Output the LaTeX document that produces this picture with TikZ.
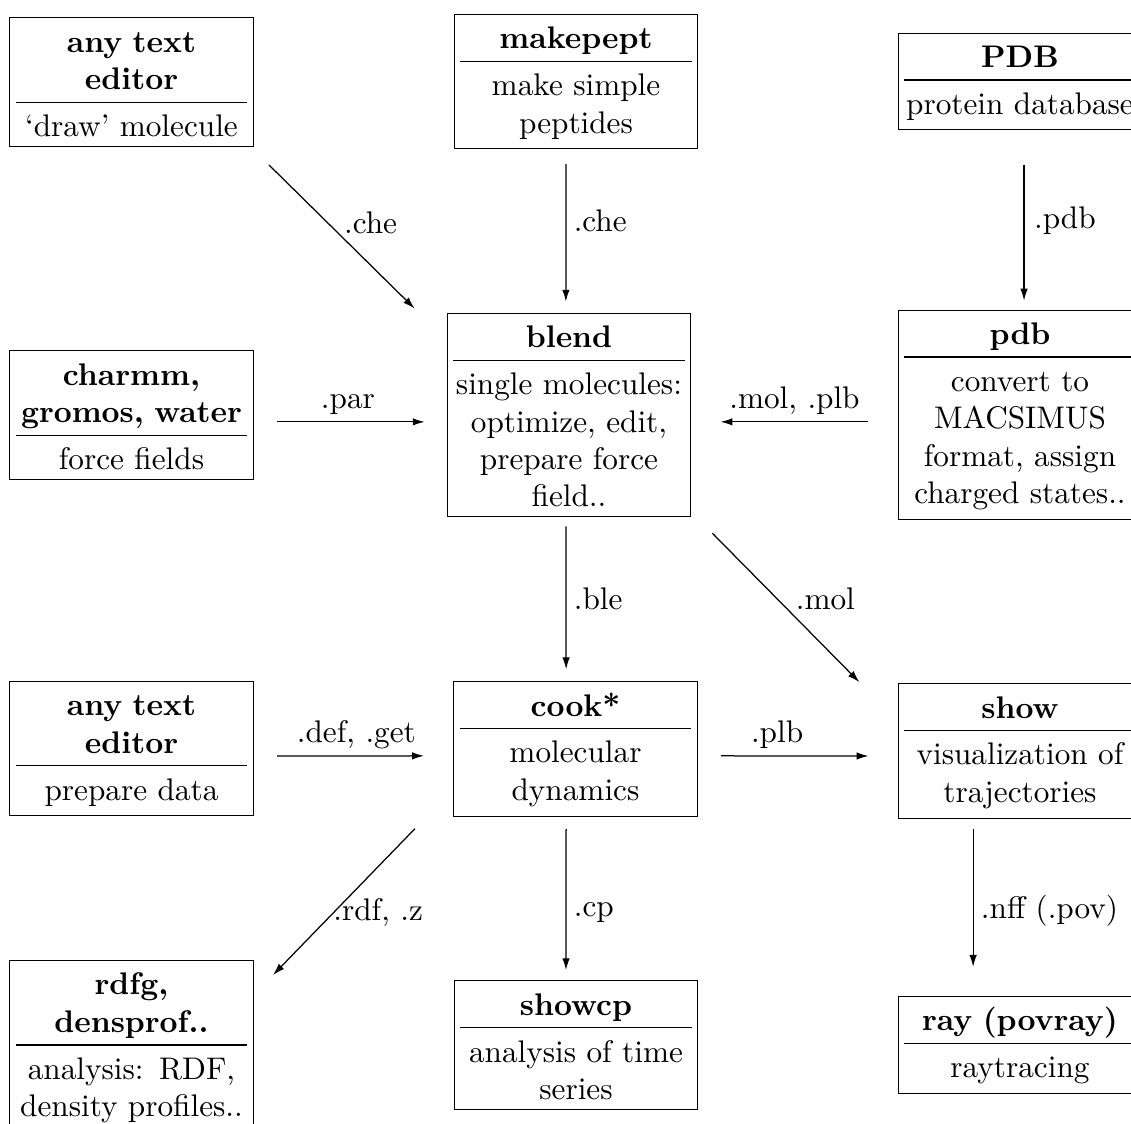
\documentclass[tikz,border=0pt]{standalone}
\usetikzlibrary{arrows.meta}
\newcommand\pbox[2]{\noindent\rule{0pt}{8pt}\textbf{#1}\rule[-3.8pt]{0pt}{3.8pt}\par\hrule\vspace{2.8pt}\noindent\rule{0pt}{8pt}#2}
\tikzset{
  box/.style={draw, line width=0.4pt, text width=74pt, inner xsep=2pt, inner ysep=3pt, align=center},
  arr/.style={-{Latex[length=3.8pt,width=2.4pt]}, line width=0.4pt},
  lbl/.style={inner sep=1pt}
}
\begin{document}
\begin{tikzpicture}[x=0.32pt, y=-0.32pt]
\useasboundingbox (0,0) rectangle (1131,1124);
% boxes
\node[box] (ed1) at (131.5,82) {\pbox{any text\\editor}{‘draw’ molecule}};
\node[box] (mkp) at (576,81.5) {\pbox{makepept}{make simple\\peptides}};
\node[box] (PDB) at (1020,81.5) {\pbox{PDB}{protein database}};
\node[box] (chm) at (131.5,415) {\pbox{charmm,\\gromos, water}{force fields}};
\node[box] (bld) at (569,415) {\pbox{blend}{single molecules:\\optimize, edit,\\prepare force\\field..}};
\node[box] (pdb) at (1020,415) {\pbox{pdb}{convert to\\MACSIMUS\\format, assign\\charged states..}};
\node[box] (ed2) at (131.5,748.5) {\pbox{any text\\editor}{prepare data}};
\node[box] (cook) at (575.5,749) {\pbox{cook*}{molecular\\dynamics}};
\node[box] (show) at (1020,751) {\pbox{show}{visualization of\\trajectories}};
\node[box, anchor=north] (rdf) at (131.5,960) {\pbox{rdfg,\\densprof..}{analysis: RDF,\\density profiles..}};
\node[box] (scp) at (576,1045) {\pbox{showcp}{analysis of time\\series}};
\node[box] (ray) at (1020,1045) {\pbox{ray (povray)}{raytracing}};
% connectors
\draw[arr] ([xshift=4.8pt,yshift=-5.8pt]ed1.south east) -- node[lbl, pos=0.40, anchor=west, xshift=4.2pt] {.che} ([xshift=-10.2pt,yshift=1.3pt]bld.north west);
\draw[arr] ([xshift=-3.2pt,yshift=-4.8pt]mkp.south) -- node[lbl, pos=0.41, anchor=west, xshift=1.3pt] {.che} ([xshift=-1pt,yshift=3.5pt]bld.north);
\draw[arr] ([xshift=1.3pt,yshift=-10.9pt]PDB.south) -- node[lbl, pos=0.41, anchor=west, xshift=2pt] {.pdb} ([xshift=1.3pt,yshift=2.9pt]pdb.north);
\draw[arr] ([xshift=7.4pt,yshift=-2.2pt]chm.east) -- node[lbl, pos=0.48, anchor=base, yshift=4.3pt] {.par} ([xshift=-7pt,yshift=-2.2pt]bld.west);
\draw[arr] ([xshift=-9.3pt,yshift=-2.2pt]pdb.west) -- node[lbl, pos=0.5, anchor=base, yshift=4.3pt] {.mol, .plb} ([xshift=9.3pt,yshift=-2.2pt]bld.east);
\draw[arr] ([xshift=-1pt,yshift=-2.9pt]bld.south) -- node[lbl, pos=0.51, anchor=west, xshift=1.3pt] {.ble} ([xshift=-3pt,yshift=3.8pt]cook.north);
\draw[arr] ([xshift=6.7pt,yshift=-5.1pt]bld.south east) -- node[lbl, pos=0.44, anchor=west, xshift=4.8pt] {.mol} ([xshift=-12.2pt,yshift=0.3pt]show.north west);
\draw[arr] ([xshift=7.4pt,yshift=-2.4pt]ed2.east) -- node[lbl, pos=0.54, anchor=base, yshift=4.3pt] {.def, .get} ([xshift=-9.3pt,yshift=-2.2pt]cook.west);
\draw[arr] ([xshift=7.4pt,yshift=-2.2pt]cook.east) -- node[lbl, pos=0.38, anchor=base, yshift=4.3pt] {.plb} ([xshift=-9.3pt,yshift=-1.6pt]show.west);
\draw[arr] ([xshift=-12.2pt,yshift=-3.8pt]cook.south west) -- node[lbl, pos=0.57, anchor=west, xshift=-1.4pt] {.rdf, .z} ([xshift=6.1pt,yshift=-4.8pt]rdf.north east);
\draw[arr] ([xshift=-3pt,yshift=-3.8pt]cook.south) -- node[lbl, pos=0.59, anchor=west, xshift=1.3pt] {.cp} ([xshift=-3.2pt,yshift=3.2pt]scp.north);
\draw[arr] ([xshift=-15pt,yshift=-3.2pt]show.south) -- node[lbl, pos=0.59, anchor=west, xshift=1.3pt] {.nff (.pov)} ([xshift=-15pt,yshift=9.3pt]ray.north);
\end{tikzpicture}
\end{document}
